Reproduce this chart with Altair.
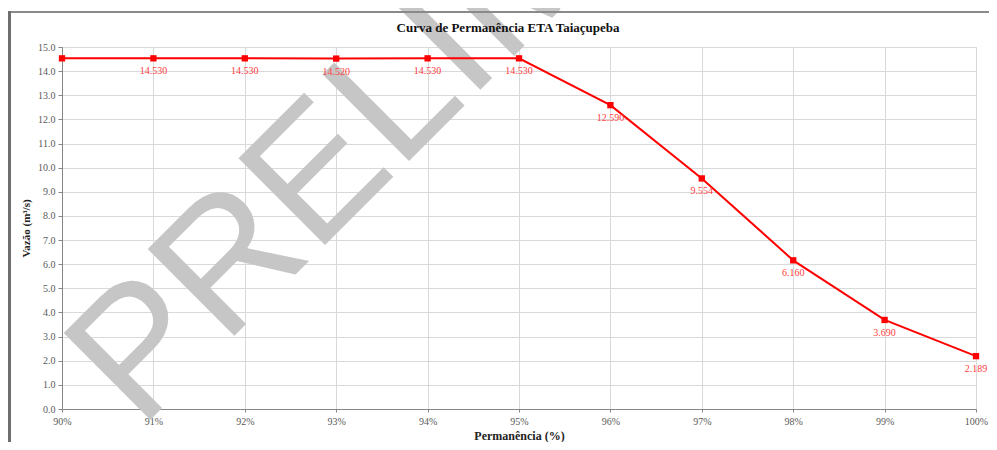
import altair as alt
import pandas as pd

# Data
permanencia = [90, 91, 92, 93, 94, 95, 96, 97, 98, 99, 100]
vazao = [14.530, 14.530, 14.530, 14.520, 14.530, 14.530, 12.590, 9.554, 6.160, 3.690, 2.189]
rotulos = ["", "14.530", "14.530", "14.520", "14.530", "14.530", "12.590", "9.554", "6.160", "3.690", "2.189"]
x_ticks = [90, 91, 92, 93, 94, 95, 96, 97, 98, 99, 100]
y_ticks = [float(v) for v in range(0, 16)]

titulo = "Curva de Permanência ETA Taiaçupeba"
titulo_x = "Permanência (%)"
titulo_y = "Vazão (m³/s)"
marca_dagua = "PRELIMINAR"

df = pd.DataFrame({"perm": permanencia, "vazao": vazao, "rotulo": rotulos})

W, H = 914, 362
SERIF = "Liberation Serif"
RED = "#ff0000"

x_enc = alt.X(
    "perm:Q",
    scale=alt.Scale(domain=[90, 100], nice=False, zero=False),
    axis=alt.Axis(
        values=x_ticks,
        labelExpr="datum.value + '%'",
        title=titulo_x,
        titleFontWeight="bold",
        titleFont=SERIF,
        titleFontSize=12,
        titleColor="#222222",
        titlePadding=4,
        labelFont=SERIF,
        labelFontSize=10,
        labelColor="#595959",
        labelPadding=4,
        labelFlush=False,
        domainColor="#868686",
        tickColor="#868686",
        tickSize=3,
        gridColor="#d9d9d9",
    ),
)
y_enc = alt.Y(
    "vazao:Q",
    scale=alt.Scale(domain=[0, 15], nice=False),
    axis=alt.Axis(
        values=y_ticks,
        format=".1f",
        labelOverlap=False,
        title=titulo_y,
        titleFontWeight="bold",
        titleFont=SERIF,
        titleFontSize=11,
        titleColor="#222222",
        titlePadding=6,
        labelFont=SERIF,
        labelFontSize=10,
        labelColor="#595959",
        labelPadding=3,
        domainColor="#868686",
        tickColor="#868686",
        tickSize=4,
        gridColor="#d9d9d9",
    ),
)

base = alt.Chart(df)

watermark = alt.Chart(pd.DataFrame({"t": [marca_dagua]})).mark_text(
    align="left",
    baseline="alphabetic",
    angle=315,
    font="Liberation Sans",
    fontSize=178,
    color="#c6c6c6",
).encode(text="t:N", x=alt.value(78), y=alt.value(383))

line = base.mark_line(color=RED, strokeWidth=2).encode(x=x_enc, y=y_enc)
pts = base.mark_square(color=RED, size=40, opacity=1).encode(x=x_enc, y=y_enc)
labels = base.mark_text(
    font=SERIF, fontSize=10, color="#ff3d3d", dy=13, baseline="middle"
).encode(x=x_enc, y=y_enc, text="rotulo:N")

title_mark = alt.Chart(pd.DataFrame({"t": [titulo]})).mark_text(
    font=SERIF, fontSize=13, fontWeight="bold", color="#111111",
    align="center", baseline="alphabetic",
).encode(text="t:N", x=alt.value(446), y=alt.value(-15))

frame_top = alt.Chart(pd.DataFrame({"a": [0]})).mark_rule(
    color="#8a8a8a", strokeWidth=2
).encode(x=alt.value(-54), x2=alt.value(940), y=alt.value(-35))
frame_left = alt.Chart(pd.DataFrame({"a": [0]})).mark_rule(
    color="#6e6e6e", strokeWidth=3
).encode(x=alt.value(-52.5), y=alt.value(-36), y2=alt.value(400))

chart = (
    alt.layer(watermark, line, pts, labels, title_mark, frame_top, frame_left)
    .properties(
        width=W,
        height=H,
        padding={"left": 54, "top": 39, "right": 13, "bottom": 33},
        autosize=alt.AutoSizeParams(type="none"),
    )
    .configure_view(stroke="#d9d9d9")
    .configure(background="white")
)

chart.save("out.html", embed_options={"renderer": "svg", "actions": False})
